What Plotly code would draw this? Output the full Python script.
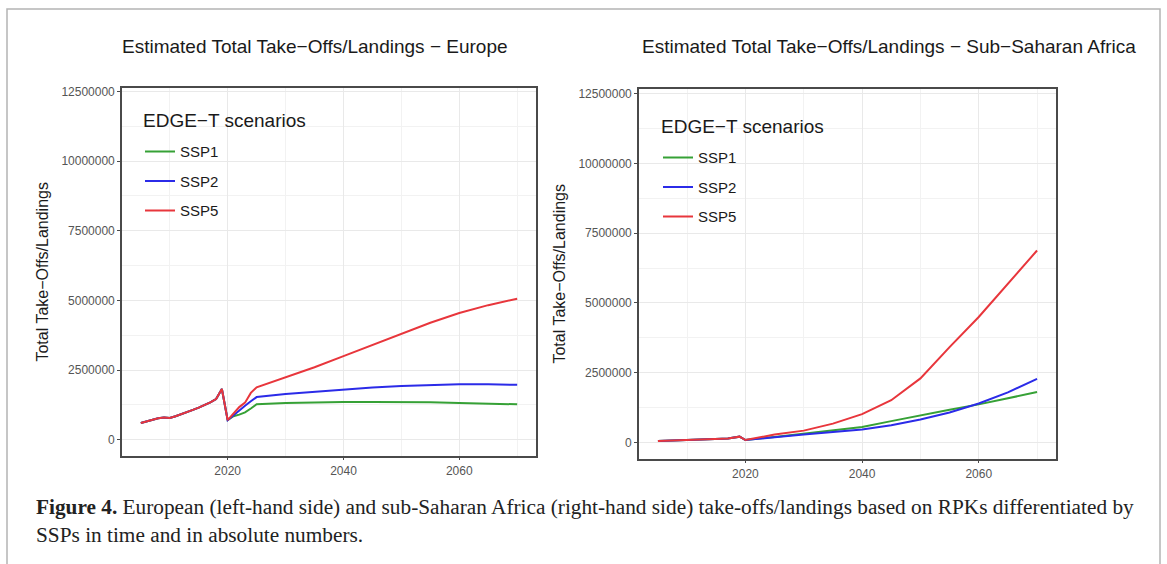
import plotly.graph_objects as go

W, H = 1167, 564

SCENARIOS = ["SSP1", "SSP2", "SSP5"]
COLORS = {"SSP1": "#36a136", "SSP2": "#2b2be8", "SSP5": "#e8363c"}

# Observed years (shared by all scenarios) and projection years
HIST_YEARS = list(range(2005, 2021))
PROJ_YEARS = [2021, 2022, 2023, 2024, 2025, 2030, 2035, 2040, 2045, 2050, 2055, 2060, 2065, 2070]

# Europe: total take-offs/landings
EU_HIST = [600000, 660000, 720000, 770000, 800000, 780000, 840000, 910000,
           990000, 1070000, 1150000, 1240000, 1340000, 1460000, 1820000, 700000]
EU_SSP1 = [840000, 900000, 980000, 1120000, 1270000, 1320000, 1340000, 1350000,
           1350000, 1350000, 1340000, 1320000, 1300000, 1270000]
EU_SSP2 = [880000, 1050000, 1220000, 1380000, 1530000, 1640000, 1720000, 1800000,
           1870000, 1930000, 1970000, 1990000, 1990000, 1970000]
EU_SSP5 = [950000, 1170000, 1330000, 1680000, 1880000, 2230000, 2600000, 3000000,
           3400000, 3800000, 4200000, 4550000, 4830000, 5060000]

# Sub-Saharan Africa: total take-offs/landings
AF_HIST = [60000, 65000, 70000, 75000, 80000, 85000, 90000, 100000,
           110000, 120000, 130000, 140000, 150000, 170000, 215000, 95000]
AF_SSP1 = [110000, 130000, 160000, 180000, 200000, 320000, 420000, 560000,
           770000, 980000, 1180000, 1370000, 1580000, 1810000]
AF_SSP2 = [110000, 130000, 150000, 170000, 190000, 290000, 370000, 470000,
           620000, 830000, 1080000, 1400000, 1800000, 2280000]
AF_SSP5 = [130000, 170000, 210000, 260000, 290000, 430000, 680000, 1020000,
           1520000, 2300000, 3420000, 4500000, 5700000, 6880000]

X_TICKS = [2020, 2040, 2060]
X_MINOR = [2010, 2030, 2050, 2070]
Y_TICKS = [0, 2500000, 5000000, 7500000, 10000000, 12500000]
Y_TICK_LABELS = ["0", "2500000", "5000000", "7500000", "10000000", "12500000"]
Y_MINOR = [1250000, 3750000, 6250000, 8750000, 11250000]

TITLES = ["Estimated Total Take\u2212Offs/Landings \u2212 Europe",
          "Estimated Total Take\u2212Offs/Landings \u2212 Sub\u2212Saharan Africa"]
Y_TITLE = "Total Take\u2212Offs/Landings"
LEGEND_TITLE = "EDGE\u2212T scenarios"
CAPTION = ("<b>Figure 4.</b> European (left-hand side) and sub-Saharan Africa (right-hand side) "
           "take-offs/landings based on RPKs differentiated by<br>SSPs in time and in absolute numbers.")

SANS = "Liberation Sans, Arial, sans-serif"
SERIF = "Liberation Serif, Times New Roman, serif"


def px(x):
    return x / W


def py(y):
    return 1 - y / H


panels = [
    dict(hist=EU_HIST, series={"SSP1": EU_SSP1, "SSP2": EU_SSP2, "SSP5": EU_SSP5},
         xdom=[px(122), px(536)], ydom=[py(455), py(85)], yrange=[-571000, 12643000],
         legend="legend", tag="eu"),
    dict(hist=AF_HIST, series={"SSP1": AF_SSP1, "SSP2": AF_SSP2, "SSP5": AF_SSP5},
         xdom=[px(639), px(1056)], ydom=[py(458), py(86)], yrange=[-570000, 12678000],
         legend="legend2", tag="af"),
]

fig = go.Figure()

for i, p in enumerate(panels):
    xa = "x" if i == 0 else "x2"
    ya = "y" if i == 0 else "y2"
    for s in SCENARIOS:
        fig.add_trace(go.Scatter(
            x=HIST_YEARS + PROJ_YEARS,
            y=p["hist"] + p["series"][s],
            mode="lines",
            name=s,
            line=dict(color=COLORS[s], width=2),
            xaxis=xa, yaxis=ya,
            legend=p["legend"],
            legendgroup=p["tag"] + s,
            hoverinfo="skip",
        ))

axis_common = dict(
    showline=True, linecolor="#4a4a4a", linewidth=1.6, mirror=True,
    ticks="outside", ticklen=3, tickwidth=1, tickcolor="#4a4a4a",
    tickfont=dict(family=SANS, size=12, color="#555555"),
    showgrid=True, gridcolor="#e9e9e9", gridwidth=1,
    zeroline=False,
)

layout = dict(
    width=W, height=H,
    margin=dict(l=0, r=0, t=0, b=0),
    paper_bgcolor="white", plot_bgcolor="white",
    showlegend=True,
    shapes=[], annotations=[],
)

for i, p in enumerate(panels):
    sx = "" if i == 0 else "2"
    layout["xaxis" + sx] = dict(
        axis_common, domain=p["xdom"], range=[2001.75, 2073.25],
        tickvals=X_TICKS, ticktext=[str(v) for v in X_TICKS],
        minor=dict(tickvals=X_MINOR, showgrid=True, gridcolor="#f2f2f2", gridwidth=1, ticks=""),
        anchor="y" + sx,
    )
    layout["yaxis" + sx] = dict(
        axis_common, domain=p["ydom"], range=p["yrange"],
        tickvals=Y_TICKS, ticktext=Y_TICK_LABELS,
        minor=dict(tickvals=Y_MINOR, showgrid=True, gridcolor="#f2f2f2", gridwidth=1, ticks=""),
        anchor="x" + sx,
    )

# legend boxes (white, hiding the grid behind the key)
legend_boxes = [(122, 95, 348, 239), (639, 97, 866, 242)]
for (x0, y0, x1, y1) in legend_boxes:
    layout["shapes"].append(dict(
        type="rect", xref="paper", yref="paper", layer="between",
        x0=px(x0 + 1), x1=px(x1), y0=py(y1), y1=py(y0),
        fillcolor="white", line=dict(width=0),
    ))

legend_common = dict(
    bgcolor="rgba(0,0,0,0)", borderwidth=0,
    font=dict(family=SANS, size=15, color="#1a1a1a"),
    traceorder="grouped", tracegroupgap=7,
    xanchor="left", yanchor="top",
    itemclick=False, itemdoubleclick=False,
)
layout["legend"] = dict(legend_common, x=px(140), y=py(133))
layout["legend2"] = dict(legend_common, x=px(658), y=py(139))

# legend titles
for lx, ly in [(141, 118), (659, 124)]:
    layout["annotations"].append(dict(
        text=LEGEND_TITLE, x=px(lx), y=py(ly), xref="paper", yref="paper",
        xanchor="left", yanchor="middle", showarrow=False,
        font=dict(family=SANS, size=19, color="#1a1a1a"),
    ))

# outer frame
layout["shapes"].append(dict(
    type="rect", xref="paper", yref="paper", layer="above",
    x0=px(7), x1=px(1160), y0=py(600), y1=py(6),
    line=dict(color="#b4b4b4", width=1.5), fillcolor="rgba(0,0,0,0)",
))

# panel titles
for cx, t in zip([315, 889], TITLES):
    layout["annotations"].append(dict(
        text=t, x=px(cx), y=py(44), xref="paper", yref="paper",
        xanchor="center", yanchor="middle", showarrow=False,
        font=dict(family=SANS, size=19, color="#1a1a1a"),
    ))

# y axis titles
for cx, cy in [(43, 270), (560, 272)]:
    layout["annotations"].append(dict(
        text=Y_TITLE, x=px(cx), y=py(cy), xref="paper", yref="paper",
        xanchor="center", yanchor="middle", showarrow=False, textangle=-90,
        font=dict(family=SANS, size=16, color="#1a1a1a"),
    ))

# caption
layout["annotations"].append(dict(
    text=CAPTION, x=px(34), y=py(493), xref="paper", yref="paper",
    xanchor="left", yanchor="top", align="left", showarrow=False,
    font=dict(family=SERIF, size=21.3, color="#222222"),
))

fig.update_layout(**layout)
fig.write_html("out.html")
